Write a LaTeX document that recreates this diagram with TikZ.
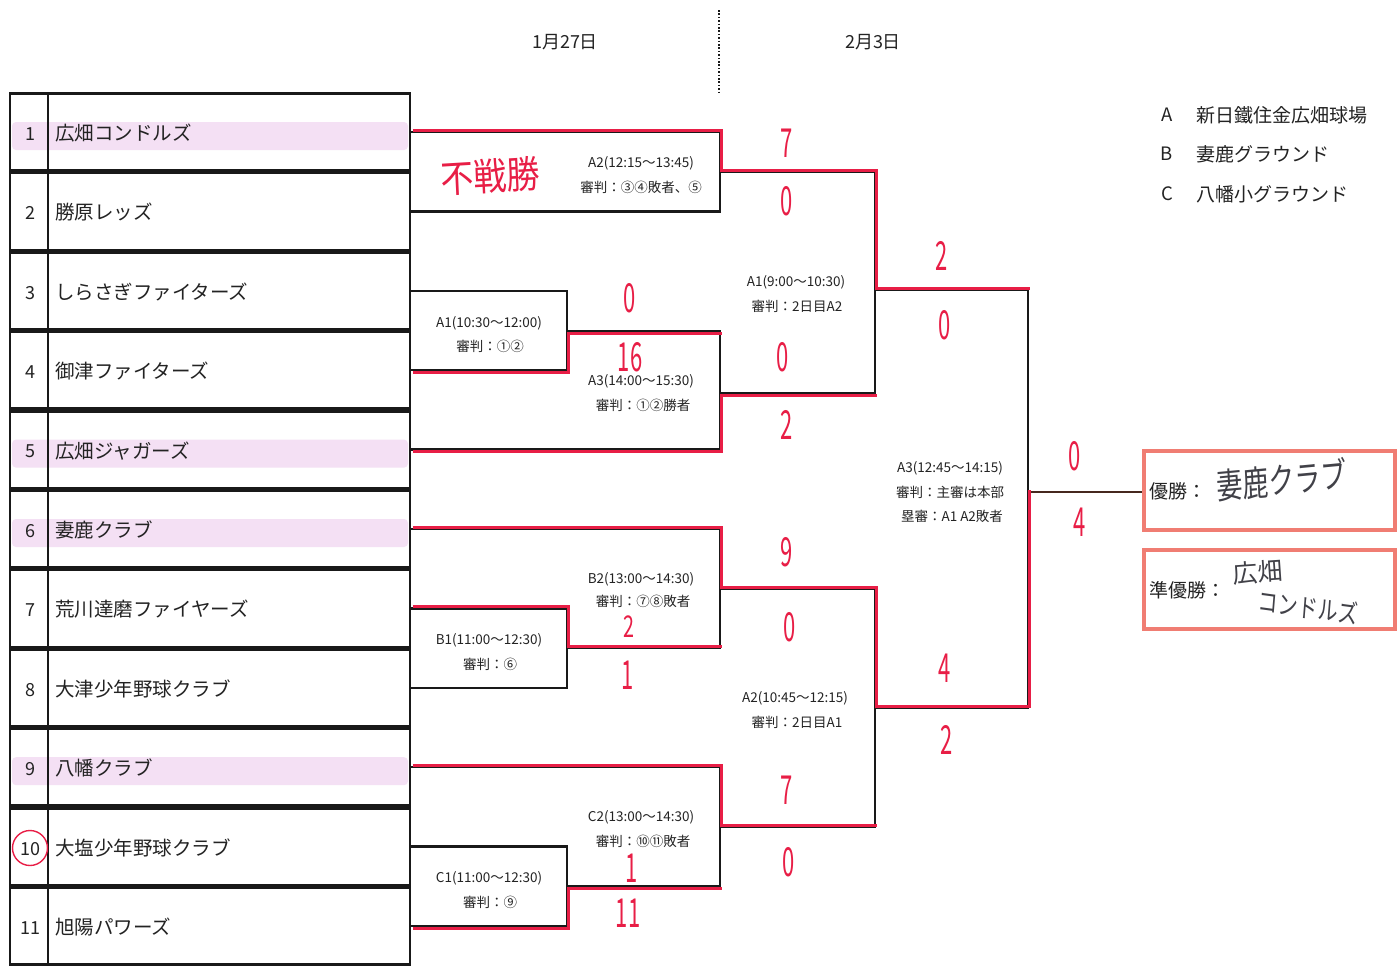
\documentclass[tikz,border=0pt]{standalone}
\usepackage{fontspec}
\setmainfont{Noto Sans CJK JP}
\definecolor{ink}{RGB}{35,35,35}
\definecolor{lin}{RGB}{25,25,25}
\definecolor{pen}{RGB}{232,30,70}
\definecolor{hl}{RGB}{244,224,244}
\definecolor{salmon}{RGB}{240,125,115}
\definecolor{pencil}{RGB}{65,65,72}
\begin{document}
\begin{tikzpicture}[x=1pt,y=-1pt,
  br/.style={line width=2.4pt, draw=lin},
  rd/.style={line width=3pt, draw=pen},
  rowbox/.style={draw=lin, line width=2.8pt, minimum width=400pt, minimum height=77pt, inner sep=0pt},
  num/.style={font=\fontsize{18}{20}\selectfont, text=ink, inner sep=0pt},
  team/.style={font=\fontsize{19.5}{22}\selectfont, text=ink, anchor=west, inner sep=0pt},
  lbl/.style={font=\fontsize{13.5}{16}\selectfont, text=ink, inner sep=0pt},
  hdr/.style={font=\fontsize{18}{20}\selectfont, text=ink, inner sep=0pt},
  sc/.style={font=\fontsize{40}{40}\selectfont, text=pen, xscale=0.55, inner sep=0pt},
  hand/.style={text=pencil, inner sep=0pt},
  winbox/.style={draw=salmon, line width=4pt, minimum width=251pt, minimum height=79pt, inner sep=0pt}]
\useasboundingbox[fill=white] (0,0) rectangle (1398,967);

% highlight bands
\foreach \i in {1,5,6,9}{
  \pgfmathsetmacro\yc{132+(\i-1)*79.4}
  \fill[hl, rounded corners=4pt] (12,\yc-10) rectangle (408,\yc+18);
}
% team rows
\foreach \i/\n in {1/広畑コンドルズ,2/勝原レッズ,3/しらさぎファイターズ,4/御津ファイターズ,5/広畑ジャガーズ,6/妻鹿クラブ,7/荒川達磨ファイヤーズ,8/大津少年野球クラブ,9/八幡クラブ,10/大塩少年野球クラブ,11/旭陽パワーズ}{
  \pgfmathsetmacro\yc{132+(\i-1)*79.4}
  \node[rowbox] (t\i) at (210,\yc) {};
  \draw[lin, line width=1.6pt] (48,\yc-38.5) -- (48,\yc+38.5);
  \node[num] (n\i) at (30,\yc+2) {\i};
  \node[team] (name\i) at (55,\yc+1) {\n};
}
\draw[pen, line width=1.4pt] (30,848) circle[radius=17.5pt];

% header
\node[hdr] (d1) at (565,42) {1月27日};
\node[hdr] (d2) at (873,42) {2月3日};
\draw[lin, line width=2pt, dash pattern=on 1.6pt off 1.8pt] (719,10) -- (719,93);

% legend
\node[hdr, font=\fontsize{18.5}{20}\selectfont] (la) at (1167,115) {A};
\node[hdr, font=\fontsize{18.5}{20}\selectfont] (lb) at (1167,154) {B};
\node[hdr, font=\fontsize{18.5}{20}\selectfont] (lc) at (1167,194) {C};
\node[hdr, anchor=west, font=\fontsize{19}{20}\selectfont] (lat) at (1196,115) {新日鐵住金広畑球場};
\node[hdr, anchor=west, font=\fontsize{19}{20}\selectfont] (lbt) at (1196,154) {妻鹿グラウンド};
\node[hdr, anchor=west, font=\fontsize{19}{20}\selectfont] (lct) at (1196,194) {八幡小グラウンド};

% winner boxes
\node[winbox] (win) at (1269,490) {};
\node[winbox] (run) at (1269,589) {};
\node[hdr, anchor=west, font=\fontsize{19}{20}\selectfont] (wl) at (1149,491) {優勝：};
\node[hdr, anchor=west, font=\fontsize{19}{20}\selectfont] (rl) at (1149,590) {準優勝：};
\node[hand, font=\fontsize{26}{28}\selectfont, yscale=1.35, rotate=4] (wn) at (1282,480) {妻鹿クラブ};
\node[hand, font=\fontsize{25}{26}\selectfont, rotate=4] (rn1) at (1258,572) {広畑};
\node[hand, font=\fontsize{20}{22}\selectfont, yscale=1.3, rotate=-6] (rn2) at (1308,607) {コンドルズ};

% junction coordinates
\coordinate (mA2) at (720,172);
\coordinate (mA1) at (567,331);
\coordinate (mA3) at (720,393);
\coordinate (mB1) at (567,648);
\coordinate (mB2) at (720,589);
\coordinate (mC1) at (567,886);
\coordinate (mC2) at (720,827);
\coordinate (nA1) at (875,290);
\coordinate (nA2) at (875,708);
\coordinate (fA3) at (1028,492);

% black bracket
\draw[br] (t1.east) -| (mA2) |- (t2.east);
\draw[br] (t3.east) -| (mA1) |- (t4.east);
\draw[br] (mA1) -| (mA3) |- (t5.east);
\draw[br] (mA2) -| (nA1) |- (mA3);
\draw[br] (t7.east) -| (mB1) |- (t8.east);
\draw[br] (t6.east) -| (mB2) |- (mB1);
\draw[br] (t10.east) -| (mC1) |- (t11.east);
\draw[br] (t9.east) -| (mC2) |- (mC1);
\draw[br] (mB2) -| (nA2) |- (mC2);
\draw[br] (nA1) -| (fA3) |- (nA2);
\draw[br, draw={rgb,255:red,70;green,40;blue,30}] (fA3) -- (fA3 -| win.west);

% red winner paths
\begin{scope}[transform canvas={shift={(1.5pt,2pt)}}]
\draw[rd] (t1.east) -| (mA2) -| (nA1) -- (nA1 -| fA3);
\draw[rd] (t6.east) -| (mB2) -| (nA2) -- (nA2 -| fA3) -- (fA3);
\draw[rd] (t7.east) -| (mB1) -- (mB1 -| mB2);
\draw[rd] (t9.east) -| (mC2) -- (mC2 -| nA2);
\end{scope}
\begin{scope}[transform canvas={shift={(1.5pt,-2pt)}}]
\draw[rd] (t4.east) -| (mA1) -- (mA1 -| mA3);
\draw[rd] (t5.east) -| (mA3) -- (mA3 -| nA1);
\draw[rd] (t11.east) -| (mC1) -- (mC1 -| mC2);
\end{scope}

% match labels
\node[lbl] (a2a) at (641,163) {A2(12:15～13:45)};
\node[lbl] (a2b) at (641,187) {審判：③④敗者、⑤};
\node[lbl] (a1a) at (489,323) {A1(10:30～12:00)};
\node[lbl] (a1b) at (490,346) {審判：①②};
\node[lbl] (a3a) at (641,381) {A3(14:00～15:30)};
\node[lbl] (a3b) at (643,405) {審判：①②勝者};
\node[lbl] (x1a) at (796,282) {A1(9:00～10:30)};
\node[lbl] (x1b) at (797,306) {審判：2日目A2};
\node[lbl] (b1a) at (489,640) {B1(11:00～12:30)};
\node[lbl] (b1b) at (490,664) {審判：⑥};
\node[lbl] (b2a) at (641,579) {B2(13:00～14:30)};
\node[lbl] (b2b) at (643,601) {審判：⑦⑧敗者};
\node[lbl] (c1a) at (489,878) {C1(11:00～12:30)};
\node[lbl] (c1b) at (490,902) {審判：⑨};
\node[lbl] (c2a) at (641,817) {C2(13:00～14:30)};
\node[lbl] (c2b) at (643,841) {審判：⑩⑪敗者};
\node[lbl] (x2a) at (795,698) {A2(10:45～12:15)};
\node[lbl] (x2b) at (797,722) {審判：2日目A1};
\node[lbl] (fa) at (950,468) {A3(12:45～14:15)};
\node[lbl] (fb) at (950,492) {審判：主審は本部};
\node[lbl] (fc) at (952,516) {塁審：A1 A2敗者};

% handwritten results
\node[font=\fontsize{33}{34}\selectfont, text=pen, inner sep=0pt, yscale=1.15, rotate=3] (fs) at (490,176) {不戦勝};
\node[sc] (s1) at (787,143) {7};
\node[sc] (s2) at (787,201) {0};
\node[sc] (s3) at (630,298) {0};
\node[sc] (s4) at (630,357) {16};
\node[sc] (s5) at (783,357) {0};
\node[sc] (s6) at (787,425) {2};
\node[sc] (s7) at (942,256) {2};
\node[sc] (s8) at (945,325) {0};
\node[sc] (s9) at (1075,456) {0};
\node[sc] (s10) at (1080,522) {4};
\node[sc] (s11) at (787,552) {9};
\node[sc] (s12) at (790,627) {0};
\node[sc, font=\fontsize{30}{30}\selectfont, xscale=1.2] (s13) at (629,627) {2};
\node[sc] (s14) at (628,675) {1};
\node[sc] (s15) at (945,668) {4};
\node[sc] (s16) at (947,740) {2};
\node[sc] (s17) at (787,790) {7};
\node[sc] (s18) at (789,862) {0};
\node[sc] (s19) at (632,868) {1};
\node[sc] (s20) at (628,913) {11};
\end{tikzpicture}
\end{document}
